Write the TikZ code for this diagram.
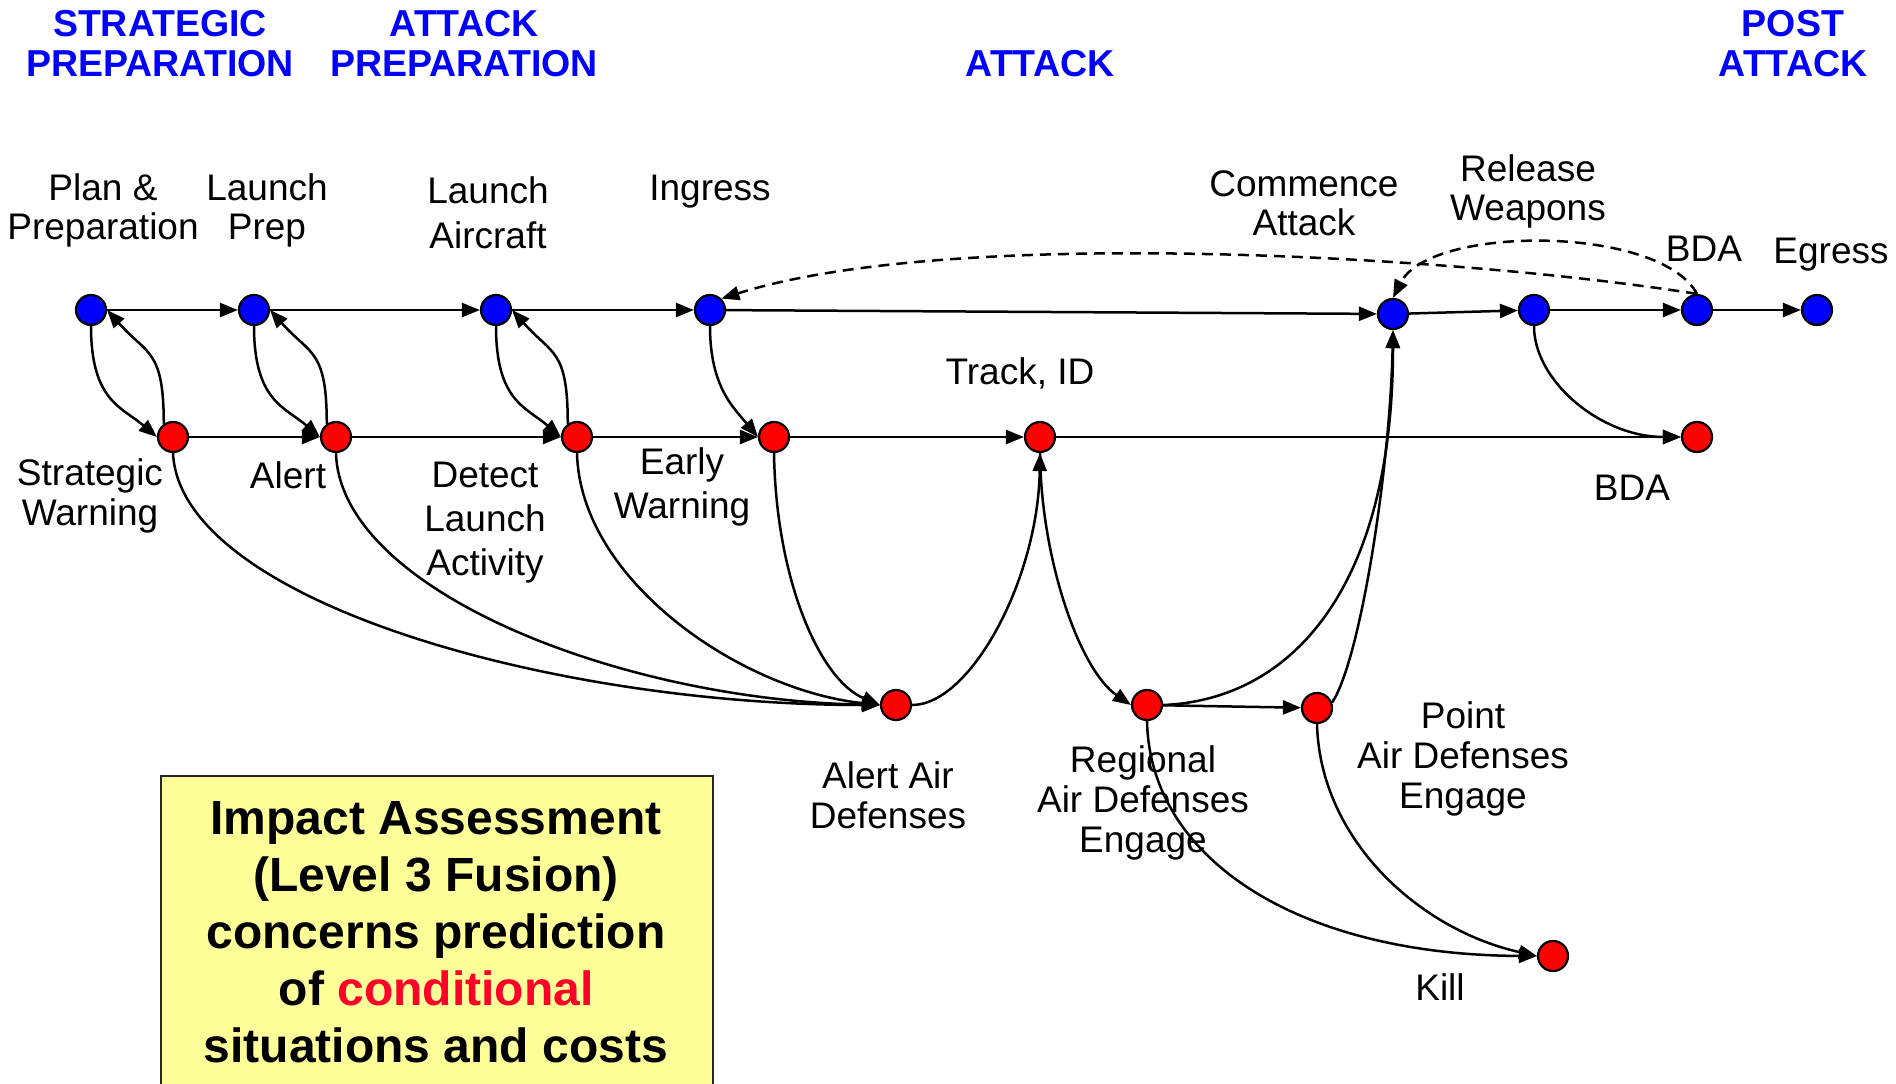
\documentclass[tikz,border=0pt]{standalone}
\usepackage{fontspec}
\setmainfont{Liberation Sans}
\usetikzlibrary{arrows.meta}
\definecolor{hdrblue}{RGB}{0,0,255}
\definecolor{nodeblue}{RGB}{0,0,255}
\definecolor{nodered}{RGB}{255,0,0}
\definecolor{boxyellow}{RGB}{255,255,153}
\definecolor{condred}{RGB}{255,0,40}
\begin{document}
\begin{tikzpicture}[x=1pt,y=1pt,
  bnode/.style={circle, draw=black, line width=2.2pt, fill=nodeblue, minimum size=30pt, inner sep=0pt},
  rnode/.style={bnode, fill=nodered},
  lbl/.style={anchor=north, inner sep=0pt, align=center, font=\fontsize{37}{#1}\selectfont},
  lbl/.default=40,
  hdr/.style={anchor=north, inner sep=0pt, align=center, text=hdrblue, font=\bfseries\fontsize{37.5}{40}\selectfont},
  arr/.style={line width=2.5pt, -{Triangle[length=18pt,width=14pt]}},
  darr/.style={arr, dash pattern=on 11pt off 7pt},
]
\useasboundingbox (0,0) rectangle (1896,-1084);
\clip (0,0) rectangle (1896,-1084);

% headers
\node[hdr] (h1) at (160,-10) {STRATEGIC\\PREPARATION};
\node[hdr] (h2) at (464,-10) {ATTACK\\PREPARATION};
\node[hdr] (h3) at (1040,-50) {ATTACK};
\node[hdr] (h4) at (1793,-10) {POST\\ATTACK};

% box
\node[draw=black!85, line width=2pt, fill=boxyellow, anchor=north west, minimum width=552pt, minimum height=340pt, inner sep=0pt] (box) at (160,-775) {};
\node[anchor=north, align=center, inner sep=0pt, font=\bfseries\fontsize{48}{57}\selectfont] (boxtext) at (436,-801)
  {Impact Assessment\\(Level 3 Fusion)\\concerns prediction\\of \textcolor{condred}{conditional}\\situations and costs};

% blue nodes
\node[bnode] (B1) at (91,-310) {};
\node[bnode] (B2) at (254,-310) {};
\node[bnode] (B3) at (496,-310) {};
\node[bnode] (B4) at (710,-310) {};
\node[bnode] (B5) at (1393,-314) {};
\node[bnode] (B6) at (1534,-310) {};
\node[bnode] (B7) at (1697,-310) {};
\node[bnode] (B8) at (1817,-310) {};
% red nodes
\node[rnode] (R1) at (173,-437) {};
\node[rnode] (R2) at (336,-437) {};
\node[rnode] (R3) at (577,-437) {};
\node[rnode] (R4) at (774,-437) {};
\node[rnode] (R5) at (1040,-437) {};
\node[rnode] (R6) at (1697,-437) {};
\node[rnode] (R7) at (896,-705) {};
\node[rnode] (R8) at (1147,-705) {};
\node[rnode] (R9) at (1317,-708) {};
\node[rnode] (R10) at (1553,-956) {};

% labels
\node[lbl=39] (lplan) at (103,-173) {Plan \&\\Preparation};
\node[lbl=39] (llprep) at (267,-173) {Launch\\Prep};
\node[lbl=45] (llair) at (488,-176) {Launch\\Aircraft};
\node[lbl] (lingress) at (710,-175) {Ingress};
\node[lbl=39] (lcomm) at (1304,-170) {Commence\\Attack};
\node[lbl=39] (lrel) at (1528,-154) {Release\\Weapons};
\node[lbl] (lbdaA) at (1704,-236) {BDA};
\node[lbl] (legress) at (1831,-238) {Egress};
\node[lbl] (ltrack) at (1020,-357) {Track, ID};
\node[lbl] (lbdaB) at (1632,-475) {BDA};
\node[lbl=40] (lsw) at (90,-458) {Strategic\\Warning};
\node[lbl] (lalert) at (288,-461) {Alert};
\node[lbl=44] (ldla) at (485,-462) {Detect\\Launch\\Activity};
\node[lbl=44] (lew) at (682,-447) {Early\\Warning};
\node[lbl=40] (laad) at (888,-761) {Alert Air\\Defenses};
\node[lbl=40] (lrad) at (1143,-745) {Regional\\Air Defenses\\Engage};
\node[lbl=40] (lpad) at (1463,-701) {Point\\Air Defenses\\Engage};
\node[lbl] (lkill) at (1440,-973) {Kill};

% straight edges
\draw[arr] (B1) -- (B2);
\draw[arr] (B2) -- (B3);
\draw[arr] (B3) -- (B4);
\draw[arr] (B4) -- (B5);
\draw[arr] (B5) -- (B6);
\draw[arr] (B6) -- (B7);
\draw[arr] (B7) -- (B8);
\draw[arr] (R1) -- (R2);
\draw[arr] (R2) -- (R3);
\draw[arr] (R3) -- (R4);
\draw[arr] (R4) -- (R5);
\draw[arr] (R5) -- (R6);
\draw[arr] (R8) -- (R9);

% loops blue <-> red
\draw[arr] (B1.south) .. controls +(0,-75) and +(-35,30) .. (R1.west);
\draw[arr] (R1.125) .. controls +(0,75) and +(40,-45) .. (B1.east);
\draw[arr] (B2.south) .. controls +(0,-75) and +(-35,30) .. (R2.west);
\draw[arr] (R2.125) .. controls +(0,75) and +(40,-45) .. (B2.east);
\draw[arr] (B3.south) .. controls +(0,-75) and +(-35,30) .. (R3.west);
\draw[arr] (R3.125) .. controls +(0,75) and +(40,-45) .. (B3.east);
\draw[arr] (B4.south) .. controls +(0,-60) and +(-25,30) .. (R4.west);
\draw[arr] (B6.south) .. controls +(0,-55) and +(-80,0) .. (R6.west);

% to alert air defenses
\draw[arr] (R1.south) .. controls +(7,-147) and +(-330,0) .. (R7.west);
\draw[arr] (R2.south) .. controls +(4,-137) and +(-260,5) .. (R7.west);
\draw[arr] (R3.south) .. controls +(3,-127) and +(-140,15) .. (R7.west);
\draw[arr] (R4.south) .. controls +(2,-127) and +(-60,25) .. (R7.west);
\draw[arr] (R7.east) .. controls +(58,0) and +(-2,-127) .. (R5.south);
\draw[arr] (R5.south) .. controls +(1,-107) and +(-51,35) .. (R8.west);
\draw[arr] (R8.east) .. controls +(127,5) and +(0,-260) .. (B5.south);
\draw[arr] (R9.20) .. controls +(28,42) and +(-3,-140) .. (B5.south);
\draw[arr] (R8.south) .. controls +(3,-139) and +(-237,1) .. (R10.west);
\draw[arr] (R9.south) .. controls +(3,-116) and +(-117,26) .. (R10.west);

% dashed feedback
\draw[darr] (B7.north) .. controls +(-247,39) and +(228,72) .. (B4.north east);
\draw[darr] (B7.north) .. controls +(-37,69) and +(37,73) .. (B5.north);
\end{tikzpicture}
\end{document}
